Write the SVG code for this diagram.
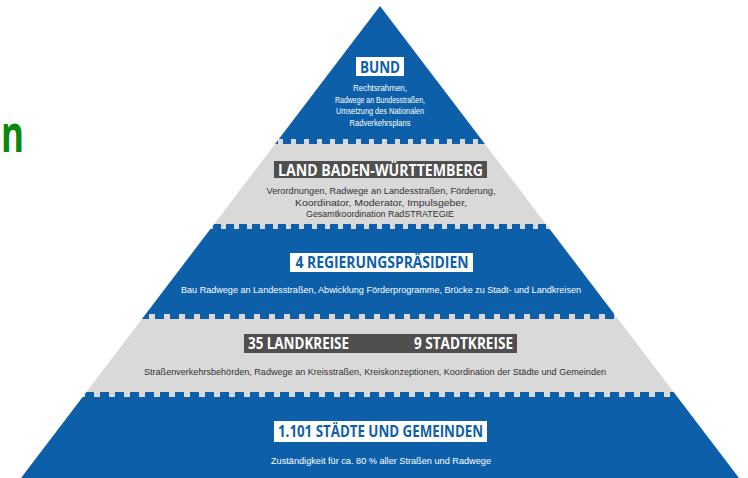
<svg xmlns="http://www.w3.org/2000/svg" width="748" height="478" viewBox="0 0 748 478">
<style>
.blue{fill:#0d5faa}
.grey{fill:#d9d9d9}
.teeth{fill:none;stroke:#0d5faa;stroke-width:5}
.t{font-family:"Open Sans","Liberation Sans",sans-serif}
.h{font-weight:700;font-size:16px;text-anchor:middle}
.d{font-family:"Liberation Sans","Open Sans",sans-serif;font-size:9.5px;text-anchor:middle}
.wb{fill:#ffffff}
.db{fill:#4f4f4f}
.wt{fill:#ffffff}
.bt{fill:#0d5faa}
.gt{fill:#333333}
</style>
<defs>
<clipPath id="tri"><polygon points="380,6 739,478 21,478"/></clipPath>
</defs>
<rect x="0" y="0" width="748" height="478" fill="#ffffff"/>
<text class="t" x="1" y="152" font-size="52" font-weight="700" fill="#0a880a" textLength="23" lengthAdjust="spacingAndGlyphs">n</text>

<g id="bund">
<rect class="blue" x="0" y="0" width="748" height="139" clip-path="url(#tri)"/>
<rect class="wb" x="356" y="57" width="48" height="19"/>
<text class="t h bt" x="380" y="72.5" font-size="15" textLength="40" lengthAdjust="spacingAndGlyphs">BUND</text>
<text class="d wt" x="380" y="91" textLength="54" lengthAdjust="spacingAndGlyphs">Rechtsrahmen,</text>
<text class="d wt" x="380" y="102.5" textLength="90" lengthAdjust="spacingAndGlyphs">Radwege an Bundesstraßen,</text>
<text class="d wt" x="380" y="114" textLength="88" lengthAdjust="spacingAndGlyphs">Umsetzung des Nationalen</text>
<text class="d wt" x="380" y="125.5" textLength="61" lengthAdjust="spacingAndGlyphs">Radverkehrsplans</text>
</g>

<g id="land">
<rect class="grey" x="0" y="139" width="748" height="90" clip-path="url(#tri)"/>
<rect class="db" x="274" y="161" width="213" height="17"/>
<text class="t h wt" x="380.5" y="175.5" textLength="205" lengthAdjust="spacingAndGlyphs">LAND BADEN-WÜRTTEMBERG</text>
<text class="d gt" x="381" y="194" textLength="229" lengthAdjust="spacingAndGlyphs">Verordnungen, Radwege an Landesstraßen, Förderung,</text>
<text class="d gt" x="381" y="205.5" textLength="172" lengthAdjust="spacingAndGlyphs">Koordinator, Moderator, Impulsgeber,</text>
<text class="d gt" x="380" y="217" textLength="148" lengthAdjust="spacingAndGlyphs">Gesamtkoordination RadSTRATEGIE</text>
</g>

<g id="regierungspraesidien">
<rect class="blue" x="0" y="229" width="748" height="85" clip-path="url(#tri)"/>
<rect class="wb" x="290" y="253" width="183" height="19"/>
<text class="t h bt" x="382" y="268" textLength="173" lengthAdjust="spacingAndGlyphs">4 REGIERUNGSPRÄSIDIEN</text>
<text class="d wt" x="381" y="293" textLength="400" lengthAdjust="spacingAndGlyphs">Bau Radwege an Landesstraßen, Abwicklung Förderprogramme, Brücke zu Stadt- und Landkreisen</text>
</g>

<g id="kreise">
<rect class="grey" x="0" y="314" width="748" height="83" clip-path="url(#tri)"/>
<rect class="db" x="244" y="334" width="273" height="19"/>
<text class="t wt" x="248" y="349" font-size="16" font-weight="700" textLength="101" lengthAdjust="spacingAndGlyphs">35 LANDKREISE</text>
<text class="t wt" x="414" y="349" font-size="16" font-weight="700" textLength="99" lengthAdjust="spacingAndGlyphs">9 STADTKREISE</text>
<text class="d gt" x="375" y="375" textLength="462" lengthAdjust="spacingAndGlyphs">Straßenverkehrsbehörden, Radwege an Kreisstraßen, Kreiskonzeptionen, Koordination der Städte und Gemeinden</text>
</g>

<g id="gemeinden">
<rect class="blue" x="0" y="397" width="748" height="81" clip-path="url(#tri)"/>
<rect class="wb" x="274" y="421" width="213" height="21"/>
<text class="t h bt" x="380.5" y="437" textLength="205" lengthAdjust="spacingAndGlyphs">1.101 STÄDTE UND GEMEINDEN</text>
<text class="d wt" x="381" y="464" textLength="220" lengthAdjust="spacingAndGlyphs">Zuständigkeit für ca. 80 % aller Straßen und Radwege</text>
</g>

<g id="boundaries" clip-path="url(#tri)">
<line class="teeth" x1="270" y1="141.5" x2="490" y2="141.5" stroke-dasharray="8 5"/>
<line class="teeth" x1="200" y1="226.5" x2="560" y2="226.5" stroke-dasharray="8 5"/>
<line class="teeth" x1="140" y1="316.5" x2="620" y2="316.5" stroke-dasharray="9 6"/>
<line class="teeth" x1="70" y1="394.5" x2="690" y2="394.5" stroke-dasharray="9 6"/>
</g>
</svg>
